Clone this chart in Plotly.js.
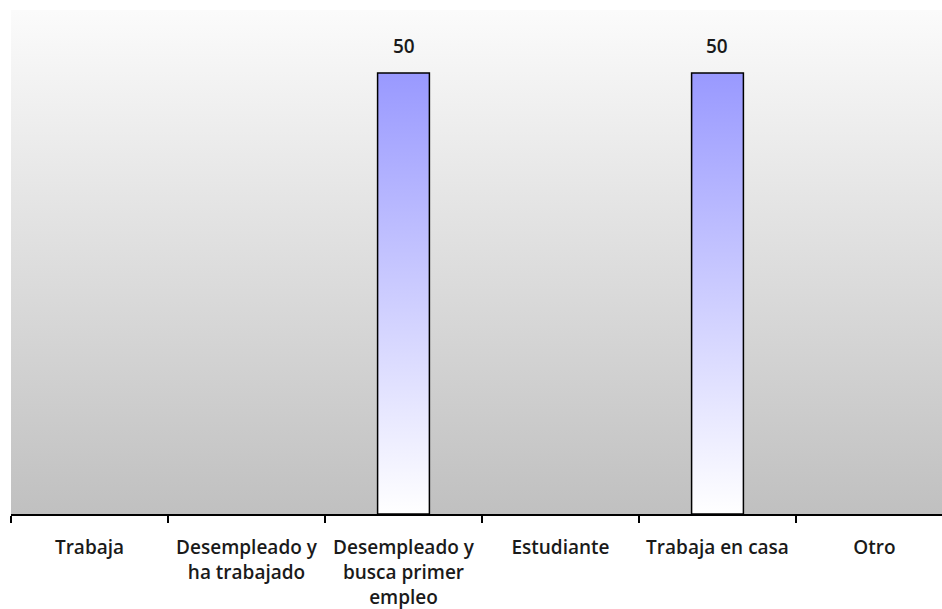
<!DOCTYPE html>
<html>
<head>
<meta charset="utf-8">
<script src="https://cdn.plot.ly/plotly-3.0.1.min.js"></script>
<style>html,body{margin:0;padding:0;background:#fff;}#chart{width:942px;height:609px;}</style>
</head>
<body>
<div id="chart"></div>
<script>
const categories = ["Trabaja", "Desempleado y ha trabajado", "Desempleado y busca primer empleo", "Estudiante", "Trabaja en casa", "Otro"];
const tickLabels = ["Trabaja", "Desempleado y<br>ha trabajado", "Desempleado y<br>busca primer<br>empleo", "Estudiante", "Trabaja en casa", "Otro"];
const values = [0, 0, 50, 0, 50, 0];

const FONT = "'Open Sans', 'Noto Sans', sans-serif";

const annotations = [];
values.forEach((v, i) => {
  if (v > 0) {
    annotations.push({
      x: tickLabels[i], y: v, xref: 'x', yref: 'y',
      text: String(v), showarrow: false,
      yanchor: 'bottom', yshift: 12,
      font: {family: FONT, size: 19, weight: 600, color: '#1a1a1a'}
    });
  }
});

const trace = {
  type: 'bar',
  x: tickLabels,
  y: values,
  marker: {
    color: '#9999ff',
    line: {color: '#000000', width: values.map(v => v > 0 ? 1.5 : 0)}
  },
  hoverinfo: 'skip'
};

const layout = {
  width: 942, height: 609,
  margin: {l: 11, r: 0, t: 10, b: 95},
  paper_bgcolor: '#ffffff',
  plot_bgcolor: '#d0d0d0',
  bargap: 0.67,
  showlegend: false,
  xaxis: {
    type: 'category',
    range: [-0.5, 5.43],
    tickson: 'boundaries',
    ticks: 'outside', ticklen: 7, tickwidth: 1.2, tickcolor: '#000',
    showline: true, linecolor: '#000', linewidth: 1.5,
    showgrid: false, zeroline: false,
    ticklabelstandoff: 16,
    tickfont: {family: FONT, size: 19, weight: 600, color: '#1a1a1a'},
    fixedrange: true
  },
  yaxis: {
    range: [0, 57.14],
    showticklabels: false, showgrid: false, zeroline: false, showline: false,
    ticks: '', fixedrange: true
  },
  annotations: annotations
};

Plotly.newPlot('chart', [trace], layout, {staticPlot: true, displayModeBar: false}).then(gd => {
  const svgNS = 'http://www.w3.org/2000/svg';
  const svg = gd.querySelector('.main-svg');
  const defs = document.createElementNS(svgNS, 'defs');
  function grad(id, stops) {
    const g = document.createElementNS(svgNS, 'linearGradient');
    g.setAttribute('id', id);
    g.setAttribute('x1', '0'); g.setAttribute('y1', '0');
    g.setAttribute('x2', '0'); g.setAttribute('y2', '1');
    stops.forEach(s => {
      const st = document.createElementNS(svgNS, 'stop');
      st.setAttribute('offset', s[0]);
      st.setAttribute('stop-color', s[1]);
      g.appendChild(st);
    });
    defs.appendChild(g);
  }
  grad('bgGrad', [['0', '#fbfbfb'], ['1', '#c0c0c0']]);
  grad('barGrad', [['0', '#9999ff'], ['1', '#ffffff']]);
  svg.insertBefore(defs, svg.firstChild);
  gd.querySelectorAll('.bglayer rect.bg').forEach(r => { r.style.fill = 'url(#bgGrad)'; });
  gd.querySelectorAll('.bars .point path').forEach(p => { p.style.fill = 'url(#barGrad)'; });
});
</script>
</body>
</html>
